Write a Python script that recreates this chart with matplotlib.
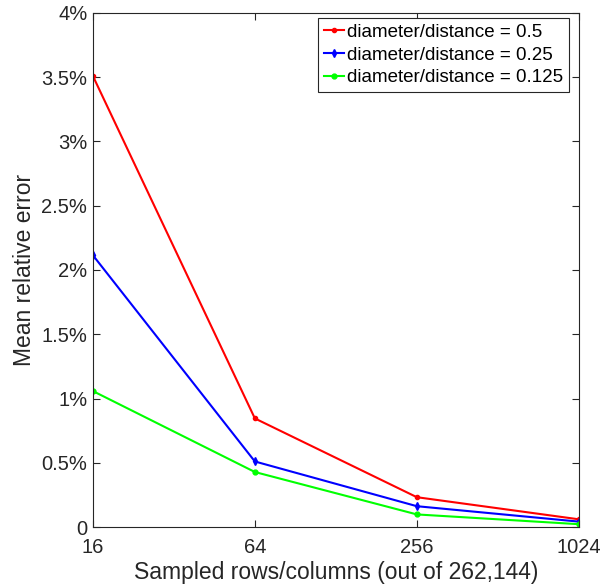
import matplotlib.pyplot as plt
from matplotlib.ticker import FuncFormatter

plt.rcParams['font.family'] = ['Liberation Sans', 'DejaVu Sans']

amostras = [16, 64, 256, 1024]
erro_05 = [3.51, 0.845, 0.232, 0.06]
erro_025 = [2.115, 0.51, 0.162, 0.042]
erro_0125 = [1.058, 0.428, 0.098, 0.022]
rotulos = ['diameter/distance = 0.5', 'diameter/distance = 0.25', 'diameter/distance = 0.125']

fig = plt.figure(figsize=(6.03, 5.88), dpi=100)
ax = fig.add_axes([0.154, 0.1037, 0.806, 0.8743])

ax.plot(amostras, erro_05, color='red', marker='.', markersize=6, linewidth=1.5, label=rotulos[0])
ax.plot(amostras, erro_025, color='blue', marker='d', markersize=4, linewidth=1.5, label=rotulos[1])
ax.plot(amostras, erro_0125, color='lime', marker='o', markersize=3.5, linewidth=1.5, label=rotulos[2])

ax.set_xscale('log', base=2)
ax.set_xlim(16, 1024)
ax.set_ylim(0, 4)
ax.set_xticks(amostras)
ax.set_xticklabels([str(a) for a in amostras])
ax.minorticks_off()
ax.set_yticks([0, 0.5, 1, 1.5, 2, 2.5, 3, 3.5, 4])
ax.yaxis.set_major_formatter(FuncFormatter(lambda v, p: '0' if v == 0 else f'{v:g}%'))

ax.tick_params(direction='in', top=True, right=True, labelsize=14.5, colors='#262626', length=5, width=0.8)
ax.tick_params(axis='x', pad=8)
ax.tick_params(axis='y', pad=4)
for s in ax.spines.values():
    s.set_color('#262626')
    s.set_linewidth(0.8)

ax.set_xlabel('Sampled rows/columns (out of 262,144)', fontsize=16.5, color='#262626', labelpad=3)
ax.set_ylabel('Mean relative error', fontsize=16.5, color='#262626', labelpad=4)

leg = ax.legend(loc='upper right', bbox_to_anchor=(569 / 603, 1 - 18 / 588), bbox_transform=fig.transFigure,
                fontsize=13.5, handlelength=1.1, handletextpad=0.15,
                borderpad=0.3, labelspacing=0.3, fancybox=False, framealpha=1,
                edgecolor='#262626', borderaxespad=0)
leg.get_frame().set_linewidth(0.8)

fig.savefig('out.png', dpi=100)
